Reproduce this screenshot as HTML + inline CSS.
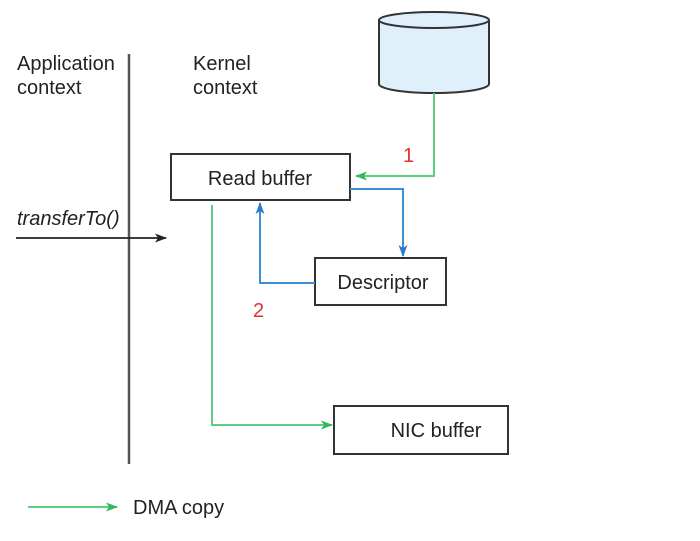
<!DOCTYPE html>
<html><head><style>
html,body{margin:0;padding:0;background:#fff;}
svg{display:block;}
text{font-family:"Liberation Sans",Arial,sans-serif;font-size:20px;fill:#222;}
</style></head><body>
<svg width="700" height="541" viewBox="0 0 700 541" xmlns="http://www.w3.org/2000/svg">
<defs>
<marker id="ag" markerWidth="12" markerHeight="9" refX="11" refY="4.5" orient="auto" markerUnits="userSpaceOnUse"><path d="M0,0 L12,4.5 L0,9 L3,4.5 z" fill="#2fba5a"/></marker>
<marker id="ab" markerWidth="12" markerHeight="9" refX="11" refY="4.5" orient="auto" markerUnits="userSpaceOnUse"><path d="M0,0 L12,4.5 L0,9 L3,4.5 z" fill="#2a7cc7"/></marker>
<marker id="ak" markerWidth="12" markerHeight="9" refX="11" refY="4.5" orient="auto" markerUnits="userSpaceOnUse"><path d="M0,0 L12,4.5 L0,9 L3,4.5 z" fill="#222"/></marker>
</defs>
<text x="17" y="70">Application</text>
<text x="17" y="94">context</text>
<text x="193" y="70">Kernel</text>
<text x="193" y="94">context</text>
<line x1="129" y1="54" x2="129" y2="464" stroke="#555" stroke-width="2.5"/>
<text x="17" y="225" font-style="italic">transferTo()</text>
<line x1="16" y1="238" x2="166" y2="238" stroke="#222" stroke-width="1.8" marker-end="url(#ak)"/>
<path d="M379,20 L379,84 A55,9 0 0 0 489,84 L489,20" fill="#dff0fb" stroke="#333" stroke-width="2"/>
<ellipse cx="434" cy="20" rx="55" ry="8" fill="#dff0fb" stroke="#333" stroke-width="2"/>
<rect x="171" y="154" width="179" height="46" fill="#fff" stroke="#333" stroke-width="2"/>
<text x="260" y="185" text-anchor="middle">Read buffer</text>
<rect x="315" y="258" width="131" height="47" fill="#fff" stroke="#333" stroke-width="2"/>
<text x="383" y="289" text-anchor="middle">Descriptor</text>
<rect x="334" y="406" width="174" height="48" fill="#fff" stroke="#333" stroke-width="2"/>
<text x="436" y="437" text-anchor="middle">NIC buffer</text>
<polyline points="434,93 434,176 356,176" fill="none" stroke="#5ccf7f" stroke-width="2" marker-end="url(#ag)"/>
<text x="403" y="162" style="fill:#e53030">1</text>
<polyline points="350,189 403,189 403,256" fill="none" stroke="#3d8fd6" stroke-width="2" marker-end="url(#ab)"/>
<polyline points="315,283 260,283 260,203" fill="none" stroke="#3d8fd6" stroke-width="2" marker-end="url(#ab)"/>
<text x="253" y="317" style="fill:#e53030">2</text>
<polyline points="212,205 212,425 332,425" fill="none" stroke="#5ccf7f" stroke-width="2" marker-end="url(#ag)"/>
<line x1="28" y1="507" x2="117" y2="507" stroke="#5ccf7f" stroke-width="2" marker-end="url(#ag)"/>
<text x="133" y="514">DMA copy</text>
</svg>
</body></html>
